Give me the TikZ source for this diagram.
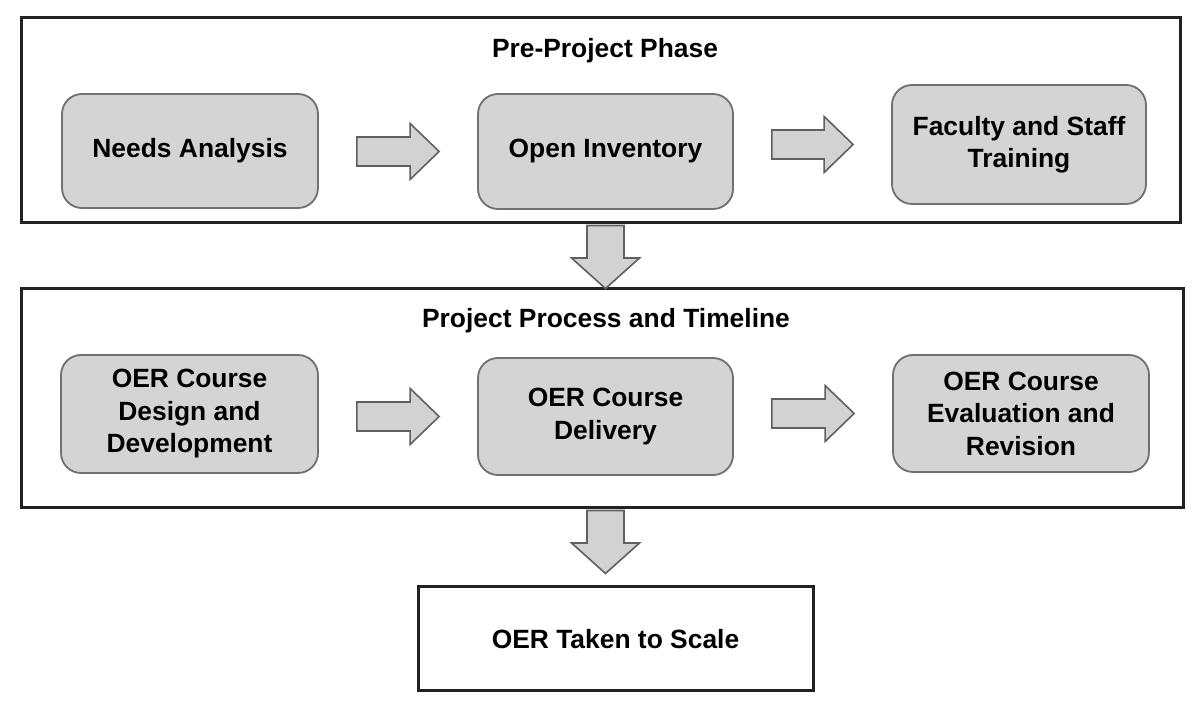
\documentclass[tikz,border=0pt]{standalone}
\usepackage{fontspec}
\setmainfont{Liberation Sans}
\usetikzlibrary{calc}
\definecolor{boxfill}{HTML}{D4D4D4}
\definecolor{boxline}{HTML}{707070}
\definecolor{arrfill}{HTML}{D2D2D2}
\definecolor{arrline}{HTML}{606060}
\definecolor{frameline}{HTML}{222222}
\tikzset{
  stepbox/.style={draw=boxline, fill=boxfill, line width=0.9pt, rounded corners=10pt,
    font=\bfseries\fontsize{13.2}{16.25}\selectfont, align=center, inner sep=0pt},
  phasebox/.style={draw=frameline, line width=1.5pt, fill=white, inner sep=0pt},
  finalbox/.style={draw=frameline, line width=1.5pt, fill=white, inner sep=0pt,
    font=\bfseries\fontsize{13.2}{16.25}\selectfont},
  phasetitle/.style={font=\bfseries\fontsize{13.2}{16.25}\selectfont, inner sep=0pt, anchor=base},
  barrow/.style={draw=arrline, fill=arrfill, line width=0.8pt, line join=miter},
}
\newcommand\hblockarrow[2]{%
  \draw[barrow] let \p1=($(#1.east)+(19pt,0)$), \p2=($(#2.west)+(-19pt,0)$) in
    (\x1,\y2+7.25pt) -- (\x2-14.5pt,\y2+7.25pt) -- (\x2-14.5pt,\y2+14pt) -- (\x2,\y2)
    -- (\x2-14.5pt,\y2-14pt) -- (\x2-14.5pt,\y2-7.25pt) -- (\x1,\y2-7.25pt) -- cycle;}
\newcommand\vblockarrow[2]{%
  \draw[barrow] let \p1=($(#1 |- #2.south)+(0,-0.5pt)$) in
    (\x1-9.25pt,\y1) -- (\x1+9.25pt,\y1) -- (\x1+9.25pt,\y1-16.25pt) -- (\x1+17pt,\y1-16.25pt)
    -- (\x1,\y1-31.5pt) -- (\x1-17pt,\y1-16.25pt) -- (\x1-9.25pt,\y1-16.25pt) -- cycle;}
\begin{document}
\begin{tikzpicture}[x=0.5pt,y=-0.5pt]
\useasboundingbox (0,0) rectangle (1200,710);
% phase frames
\node[phasebox, minimum width=579.5pt, minimum height=102.5pt] (p1) at (600.5,120.5) {};
\node[phasebox, minimum width=581pt, minimum height=109.5pt] (p2) at (602,398.5) {};
\node[phasetitle] (t1) at (605,58) {Pre-Project Phase};
\node[phasetitle] (t2) at (606,328) {Project Process and Timeline};
% row 1
\node[stepbox, minimum width=128pt, minimum height=57pt] (na) at (190,151) {Needs Analysis};
\node[stepbox, minimum width=127.5pt, minimum height=57.5pt] (oi) at (605.5,151.5) {Open Inventory};
\node[stepbox, minimum width=127pt, minimum height=59.5pt] (fs) at (1019,144.5) {Faculty and Staff\\Training};
% row 2
\node[stepbox, minimum width=128.5pt, minimum height=59pt] (dd) at (189.5,414) {OER Course\\Design and\\Development};
\node[stepbox, minimum width=127.5pt, minimum height=58.5pt] (cd) at (605.5,416.5) {OER Course\\Delivery};
\node[stepbox, minimum width=128pt, minimum height=58.5pt] (er) at (1021,413.5) {OER Course\\Evaluation and\\Revision};
% final
\node[finalbox, minimum width=197.5pt, minimum height=52pt] (sc) at (615.5,639) {OER Taken to Scale};
% block arrows
\hblockarrow{na}{oi}
\hblockarrow{oi}{fs}
\hblockarrow{dd}{cd}
\hblockarrow{cd}{er}
\vblockarrow{oi}{p1}
\vblockarrow{cd}{p2}
\end{tikzpicture}
\end{document}
